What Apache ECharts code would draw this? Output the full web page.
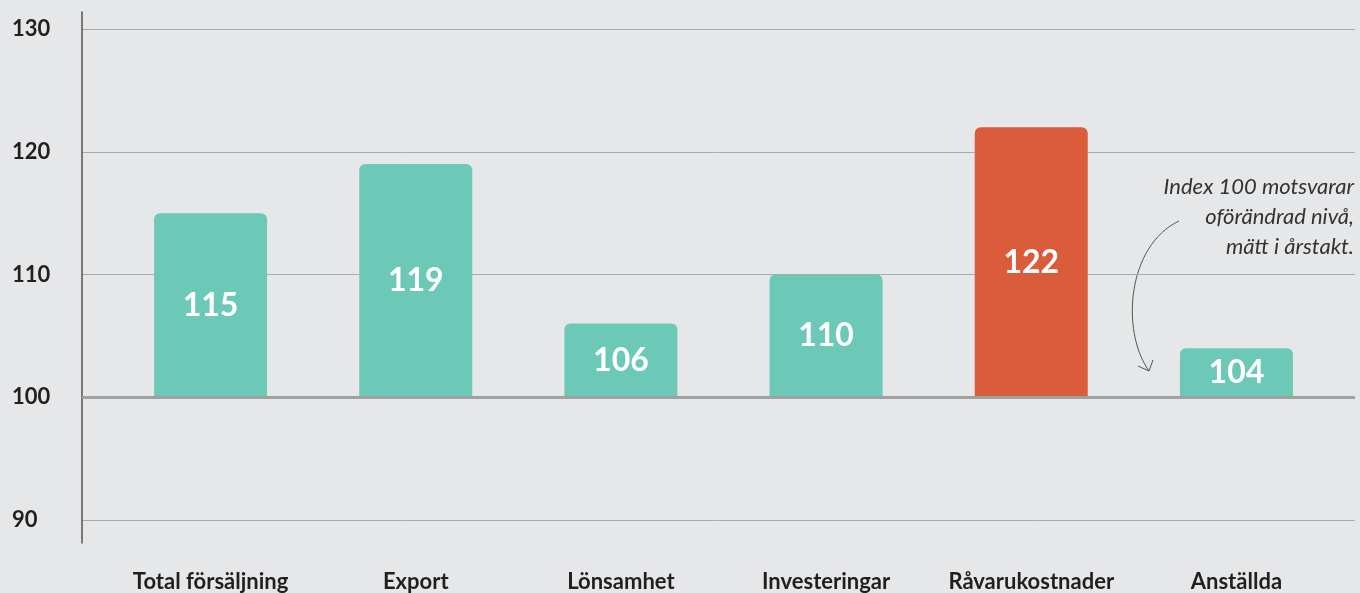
<!DOCTYPE html>
<html>
<head>
<meta charset="utf-8">
<script src="https://cdn.jsdelivr.net/npm/echarts@6/dist/echarts.min.js"></script>
<style>
  html, body { margin: 0; padding: 0; background: #E6E7E9; }
  #chart { width: 1360px; height: 593px; }
</style>
</head>
<body>
<div id="chart"></div>
<script>
// data
const categories = ['Total försäljning', 'Export', 'Lönsamhet', 'Investeringar', 'Råvarukostnader', 'Anställda'];
const values = [115, 119, 106, 110, 122, 104];
const highlight = 'Råvarukostnader';
const baseline = 100;
const yTicks = [90, 100, 110, 120, 130];
const note = ['Index 100 motsvarar', 'oförändrad nivå,', 'mätt i årstakt.'];

const FONT = 'Lato, "Open Sans", sans-serif';
const TEAL = '#6CC9B7';
const RED = '#DB5C3B';

const chart = echarts.init(document.getElementById('chart'));

chart.setOption({
  backgroundColor: '#E6E7E9',
  animation: false,
  grid: [
    { left: 82, right: 5, top: 29, bottom: 73 },   // value axis + gridlines
    { left: 108, right: 21, top: 29, bottom: 73 }, // bars
    { left: 82, right: 5, top: 12, bottom: 50 }    // long axis line
  ],
  xAxis: [
    { gridIndex: 0, type: 'value', show: false },
    {
      gridIndex: 1, type: 'category', data: categories,
      axisLine: { show: false }, axisTick: { show: false },
      axisLabel: {
        interval: 0, hideOverlap: false, margin: 51,
        fontFamily: FONT, fontWeight: 'bold', fontSize: 22, color: '#231F20'
      }
    },
    { gridIndex: 2, type: 'value', show: false }
  ],
  yAxis: [
    {
      gridIndex: 0, type: 'value', min: yTicks[0], max: yTicks[yTicks.length - 1], interval: 10,
      axisLine: { show: false }, axisTick: { show: false },
      axisLabel: { align: 'left', margin: 70, fontFamily: FONT, fontWeight: 'bold', fontSize: 22, color: '#231F20' },
      splitLine: { lineStyle: { color: '#A9AAAC', width: 1 } }
    },
    {
      gridIndex: 1, type: 'value', min: yTicks[0] - baseline, max: yTicks[yTicks.length - 1] - baseline,
      show: false, splitLine: { show: false }
    },
    {
      gridIndex: 2, type: 'value', show: true,
      axisLine: { show: true, lineStyle: { color: '#555', width: 1.5 } },
      axisTick: { show: false }, axisLabel: { show: false }, splitLine: { show: false }
    }
  ],
  series: [
    {
      // carries the index-100 reference line across the full plot width
      type: 'line', xAxisIndex: 0, yAxisIndex: 0, data: [],
      markLine: {
        silent: true, symbol: 'none', label: { show: false },
        lineStyle: { color: '#A0A1A3', width: 3, type: 'solid' },
        data: [{ yAxis: baseline }]
      },
      z: 4
    },
    {
      type: 'bar', xAxisIndex: 1, yAxisIndex: 1, barWidth: 113,
      data: values.map((v, i) => ({
        value: v - baseline,
        itemStyle: { color: categories[i] === highlight ? RED : TEAL }
      })),
      itemStyle: { borderRadius: [6, 6, 0, 0] },
      label: {
        show: true, position: 'inside',
        formatter: p => values[p.dataIndex],
        fontFamily: FONT, fontWeight: 'bold', fontSize: 32, color: '#fff'
      },
      z: 3
    }
  ],
  graphic: [
    {
      type: 'text', x: 1354, y: 172,
      style: {
        text: note.join('\n'), align: 'right', verticalAlign: 'top', lineHeight: 30,
        font: 'italic 22px ' + FONT, fill: '#333'
      }
    },
    {
      type: 'bezierCurve',
      shape: { x1: 1179, y1: 221, cpx1: 1128, cpy1: 245, cpx2: 1120, cpy2: 330, x2: 1149, y2: 371 },
      style: { stroke: '#555', lineWidth: 1, fill: null }
    },
    {
      type: 'polyline',
      shape: { points: [[1138, 366], [1149, 371], [1153, 360]] },
      style: { stroke: '#555', lineWidth: 1, fill: null }
    }
  ]
});
</script>
</body>
</html>
